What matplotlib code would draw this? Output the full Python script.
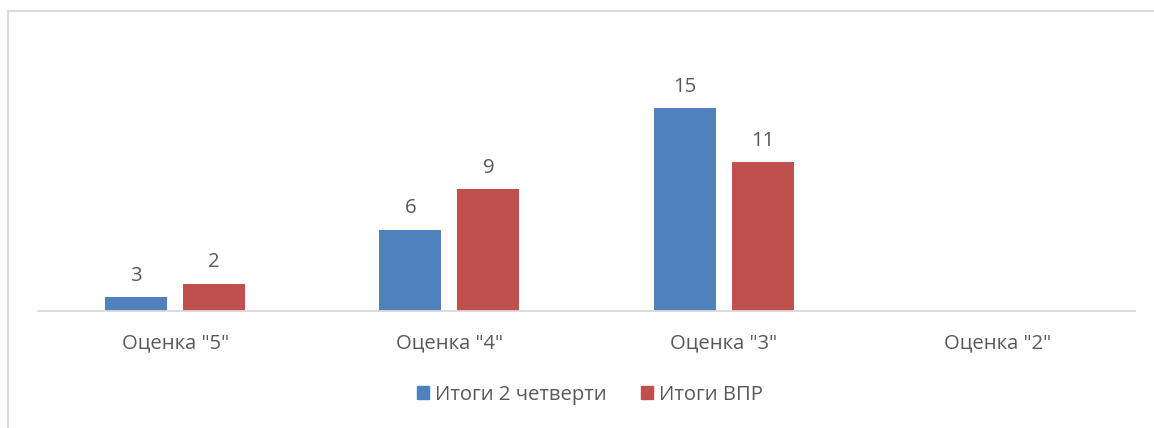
import numpy as np
import matplotlib.pyplot as plt
from matplotlib.lines import Line2D

plt.rcParams['font.family'] = ['Open Sans', 'DejaVu Sans']

# chart data
categories = ['Оценка "5"', 'Оценка "4"', 'Оценка "3"', 'Оценка "2"']
series_names = ['Итоги 2 четверти', 'Итоги ВПР']
quarter_vals = [1, 6, 15, 0]          # bar heights as drawn
quarter_labels = ['3', '6', '15', '']  # data labels as shown
vpr_vals = [2, 9, 11, 0]
vpr_labels = ['2', '9', '11', '']

BLUE = '#4F81BD'
RED = '#C0504D'
TEXT = '#595959'
GRID = '#D9D9D9'
FS = 14.6

fig = plt.figure(figsize=(11.54, 4.28), dpi=100)
ax = fig.add_axes([38 / 1154, (428 - 311) / 428, (1135 - 38) / 1154, 270.6 / 428])

x = np.arange(len(categories))
w = 0.226
off = 0.142
b1 = ax.bar(x - off, quarter_vals, w, color=BLUE)
b2 = ax.bar(x + off, vpr_vals, w, color=RED)

for bars, labels in ((b1, quarter_labels), (b2, vpr_labels)):
    for bar, lab in zip(bars, labels):
        if lab:
            ax.annotate(lab, (bar.get_x() + bar.get_width() / 2, bar.get_height()),
                        xytext=(0, 15.5), textcoords='offset points',
                        ha='center', va='center', fontsize=FS, color=TEXT)

ax.set_xlim(-0.5, len(categories) - 0.5)
ax.set_ylim(0, 20)
ax.set_xticks(x)
ax.set_xticklabels(categories, fontsize=FS, color=TEXT)
ax.tick_params(axis='x', length=0, pad=16)
ax.set_yticks([])
for s in ('top', 'right', 'left'):
    ax.spines[s].set_visible(False)
ax.spines['bottom'].set_color(GRID)
ax.spines['bottom'].set_linewidth(1.3)

handles = [plt.Rectangle((0, 0), 1, 1, color=BLUE), plt.Rectangle((0, 0), 1, 1, color=RED)]
fig.legend(handles, series_names, loc='center', bbox_to_anchor=(590 / 1154, 1 - 395 / 428),
           ncol=2, frameon=False, fontsize=FS, labelcolor=TEXT,
           handlelength=0.6, handleheight=0.6, handletextpad=0.3, columnspacing=1.7)

# outer chart frame (partially visible)
fig.add_artist(Line2D([8 / 1154, 1], [1 - 11 / 428, 1 - 11 / 428], color=GRID, lw=1.5))
fig.add_artist(Line2D([8 / 1154, 8 / 1154], [0, 1 - 11 / 428], color=GRID, lw=1.5))

fig.savefig('out.png', dpi=100, facecolor='white')
